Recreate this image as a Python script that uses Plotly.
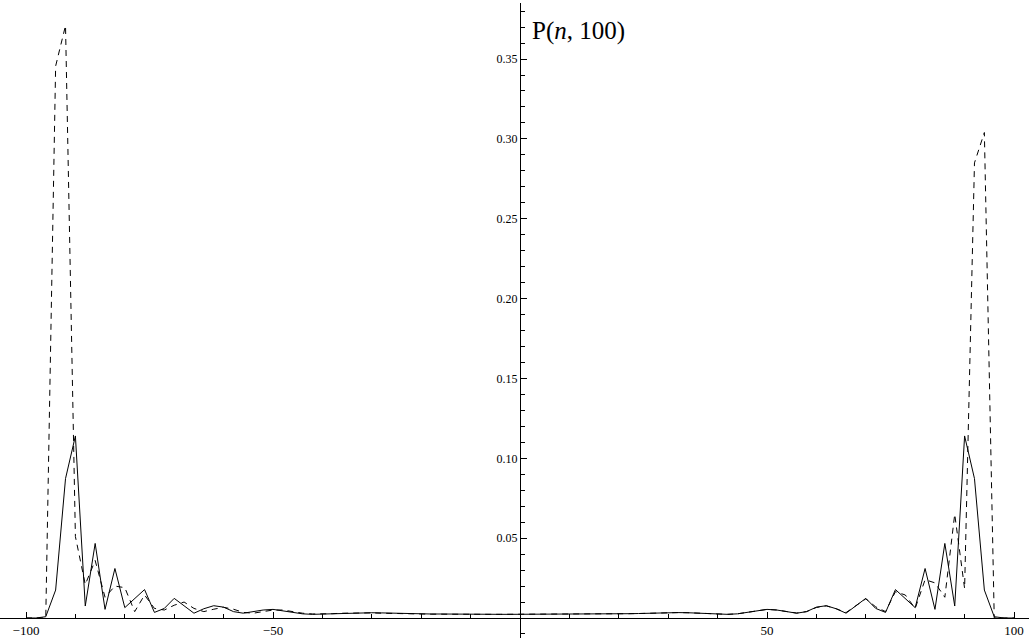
import plotly.graph_objects as go

# positions n (even sites only)
n_vals = list(range(-100, 101, 2))

# solid curve P(n, 100)
solid = [
    0.0, 0.0, 0.0008, 0.0175, 0.0873, 0.1140, 0.0075, 0.0467, 0.0054, 0.0310,   # -100 .. -82
    0.0065, 0.0120, 0.0178, 0.0035, 0.0060, 0.0123, 0.0076, 0.0030, 0.0058, 0.0077,  # -80 .. -62
    0.0068, 0.0040, 0.0030, 0.0040, 0.0050, 0.0054, 0.0045, 0.0034, 0.0026, 0.0023,  # -60 .. -42
    0.0025, 0.0028, 0.0031, 0.0033, 0.0034, 0.0033, 0.0032, 0.0030, 0.0028, 0.0027,  # -40 .. -22
    0.0026, 0.0025, 0.0025, 0.0024, 0.0024, 0.0023, 0.0023, 0.0023, 0.0023, 0.0023,  # -20 .. -2
    0.0023,                                                                          # 0
    0.0023, 0.0023, 0.0023, 0.0023, 0.0023, 0.0024, 0.0024, 0.0025, 0.0025, 0.0026,  # 2 .. 20
    0.0027, 0.0028, 0.0030, 0.0032, 0.0033, 0.0034, 0.0033, 0.0031, 0.0028, 0.0025,  # 22 .. 40
    0.0023, 0.0026, 0.0034, 0.0045, 0.0054, 0.0050, 0.0040, 0.0030, 0.0040, 0.0068,  # 42 .. 60
    0.0077, 0.0058, 0.0030, 0.0076, 0.0123, 0.0060, 0.0035, 0.0178, 0.0120, 0.0065,  # 62 .. 80
    0.0310, 0.0054, 0.0467, 0.0075, 0.1140, 0.0873, 0.0175, 0.0008, 0.0, 0.0,        # 82 .. 100
]

# dashed curve
dashed = [
    0.0, 0.0, 0.0, 0.3456, 0.3710, 0.0510, 0.0210, 0.0360, 0.0130, 0.0200,          # -100 .. -82
    0.0190, 0.0040, 0.0144, 0.0060, 0.0050, 0.0080, 0.0100, 0.0060, 0.0040, 0.0055,  # -80 .. -62
    0.0067, 0.0055, 0.0035, 0.0030, 0.0040, 0.0050, 0.0050, 0.0040, 0.0030, 0.0025,  # -60 .. -42
    0.0025, 0.0027, 0.0030, 0.0032, 0.0033, 0.0032, 0.0030, 0.0028, 0.0026, 0.0025,  # -40 .. -22
    0.0024, 0.0024, 0.0024, 0.0023, 0.0023, 0.0023, 0.0023, 0.0023, 0.0023, 0.0023,  # -20 .. -2
    0.0023,                                                                          # 0
    0.0023, 0.0023, 0.0023, 0.0023, 0.0023, 0.0024, 0.0024, 0.0025, 0.0025, 0.0026,  # 2 .. 20
    0.0027, 0.0028, 0.0030, 0.0032, 0.0033, 0.0034, 0.0033, 0.0031, 0.0028, 0.0025,  # 22 .. 40
    0.0023, 0.0026, 0.0034, 0.0045, 0.0054, 0.0050, 0.0040, 0.0031, 0.0040, 0.0066,  # 42 .. 60
    0.0076, 0.0058, 0.0034, 0.0078, 0.0120, 0.0070, 0.0040, 0.0165, 0.0144, 0.0060,  # 62 .. 80
    0.0240, 0.0220, 0.0130, 0.0650, 0.0185, 0.2850, 0.3040, 0.0, 0.0, 0.0,           # 82 .. 100
]

x_tickvals = [-100, -50, 50, 100]
x_ticktext = ["\u2212100", "\u221250", "50", "100"]
y_tickvals = [0.05, 0.10, 0.15, 0.20, 0.25, 0.30, 0.35]
y_ticktext = ["0.05", "0.10", "0.15", "0.20", "0.25", "0.30", "0.35"]

x_range = [-105.263, 103.036]
y_range = [-0.01252, 0.38510]

FONT = "Liberation Serif, Times New Roman, serif"

fig = go.Figure()
fig.add_trace(go.Scatter(x=n_vals, y=dashed, mode="lines",
                         line=dict(color="black", width=1, dash="6px,5px"),
                         showlegend=False, hoverinfo="skip"))
fig.add_trace(go.Scatter(x=n_vals, y=solid, mode="lines",
                         line=dict(color="black", width=1),
                         showlegend=False, hoverinfo="skip"))

x_pos = (0 - y_range[0]) / (y_range[1] - y_range[0])
y_pos = (0 - x_range[0]) / (x_range[1] - x_range[0])

fig.update_layout(
    width=1029, height=641,
    margin=dict(l=0, r=0, t=3, b=3),
    paper_bgcolor="white", plot_bgcolor="white",
    font=dict(family=FONT, color="black"),
    xaxis=dict(range=x_range, anchor="free", position=x_pos,
               showgrid=False, zeroline=False,
               showline=True, linecolor="black", linewidth=1,
               tickmode="array", tickvals=x_tickvals, ticktext=x_ticktext,
               ticks="inside", ticklen=6, tickcolor="black", tickwidth=1,
               tickfont=dict(family=FONT, size=13, color="black"),
               minor=dict(dtick=10, tick0=0, ticks="inside", ticklen=4,
                          tickcolor="black", tickwidth=1, showgrid=False)),
    yaxis=dict(range=y_range, anchor="free", position=y_pos, side="left",
               showgrid=False, zeroline=False,
               showline=True, linecolor="black", linewidth=1,
               tickmode="array", tickvals=y_tickvals, ticktext=y_ticktext,
               ticks="inside", ticklen=6, tickcolor="black", tickwidth=1,
               tickfont=dict(family=FONT, size=12, color="black"),
               minor=dict(dtick=0.01, tick0=0, ticks="inside", ticklen=4,
                          tickcolor="black", tickwidth=1, showgrid=False)),
    annotations=[dict(text="P(<i>n</i>, 100)", xref="paper", yref="paper",
                      x=530 / 1029, y=(638 - 31) / 635, xanchor="left", yanchor="middle",
                      showarrow=False, font=dict(family=FONT, size=25, color="black"))],
)

fig.write_html("out.html")
